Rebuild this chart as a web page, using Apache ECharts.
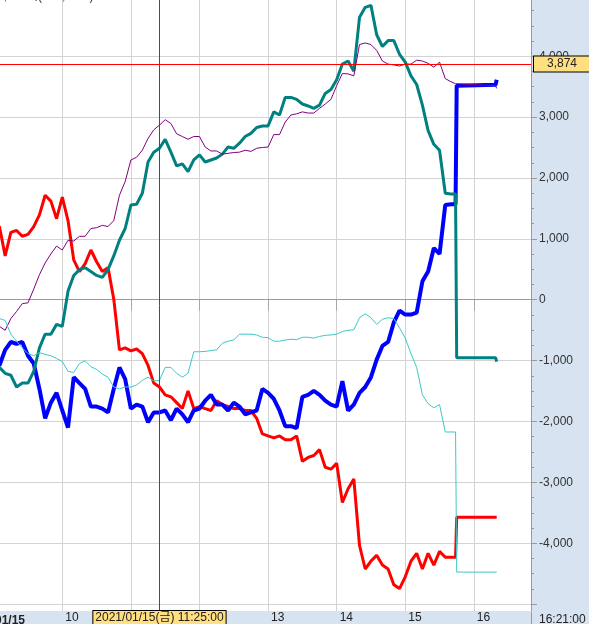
<!DOCTYPE html>
<html>
<head>
<meta charset="utf-8">
<script src="https://cdn.jsdelivr.net/npm/echarts@6/dist/echarts.min.js"></script>
<style>html,body{margin:0;padding:0;background:#d7e3f0;}#chart{width:589px;height:624px;}</style>
</head>
<body>
<div id="chart"></div>
<script>
const times = [
  "09:00","09:05","09:10","09:15","09:20","09:25","09:30","09:35","09:40","09:45","09:50","09:55",
  "10:00","10:05","10:10","10:15","10:20","10:25","10:30","10:35","10:40","10:45","10:50","10:55",
  "11:00","11:05","11:10","11:15","11:20","11:25","11:30","11:35","11:40","11:45","11:50","11:55",
  "12:00","12:05","12:10","12:15","12:20","12:25","12:30","12:35","12:40","12:45","12:50","12:55",
  "13:00","13:05","13:10","13:15","13:20","13:25","13:30","13:35","13:40","13:45","13:50","13:55",
  "14:00","14:05","14:10","14:15","14:20","14:25","14:30","14:35","14:40","14:45","14:50","14:55",
  "15:00","15:05","15:10","15:15","15:20","15:25","15:30","15:35","15:40","15:44","15:45","16:19","16:20"
];
const redVals = [
  1170,1202,720,1106,1138,1042,1074,1202,1395,1717,1620,1331,
  1685,1299,656,463,592,817,624,463,527,13,-823,-791,
  -840,-810,-887,-1080,-1370,-1434,-1562,-1595,-1691,-1788,-1498,-1788,
  -1755,-1788,-1820,-1659,-1723,-1755,-1788,-1788,-1820,-1820,-1948,-2205,
  -2238,-2270,-2238,-2302,-2302,-2238,-2655,-2591,-2559,-2463,-2752,-2784,
  -2688,-3331,-3106,-2945,-4038,-4424,-4295,-4199,-4360,-4424,-4681,-4745,
  -4552,-4295,-4167,-4424,-4167,-4360,-4135,-4231,-4231,-4231,-3575,-3575,-3575
];
const blueVals = [
  -900,-1080,-823,-694,-727,-694,-920,-1048,-1466,-1950,-1691,-1530,
  -1820,-2100,-1273,-1370,-1466,-1755,-1755,-1788,-1852,-1466,-1112,-1305,
  -1788,-1723,-1755,-2013,-1852,-1852,-1820,-1980,-1788,-1884,-2013,-1820,
  -1788,-1659,-1562,-1723,-1723,-1820,-1691,-1755,-1884,-1852,-1820,-1466,
  -1530,-1627,-1820,-2077,-2077,-2109,-1595,-1562,-1498,-1562,-1659,-1723,
  -1755,-1337,-1820,-1723,-1530,-1434,-1273,-984,-759,-694,-373,-180,
  -244,-244,-212,302,463,849,752,1556,1569,1569,3517,3530,3614
];
const tealVals = [
  -1100,-1112,-1209,-1241,-1434,-1370,-1370,-1177,-791,-566,-566,-405,
  -437,141,399,495,527,463,399,367,495,720,977,1170,
  1556,1569,1749,2263,2424,2488,2636,2424,2199,2231,2103,2296,
  2379,2263,2296,2328,2392,2508,2488,2572,2681,2733,2829,2855,
  2855,3086,3035,3324,3324,3292,3215,3183,3144,3196,3389,3453,
  3614,3871,3922,3755,4642,4803,4836,4353,4160,4257,4257,4032,
  3903,3678,3536,3196,2778,2553,2456,1749,1736,1736,-952,-952,-1016
];
const purpleVals = [
  -400,-437,-502,-309,-193,-64,-51,174,412,604,752,881,
  817,977,964,1042,1042,1170,1183,1222,1202,1299,1717,1942,
  2296,2341,2456,2649,2791,2868,2958,2894,2726,2681,2636,2681,
  2681,2508,2444,2444,2392,2405,2418,2424,2456,2437,2488,2501,
  2508,2713,2713,2919,3035,3054,3086,3067,3067,3144,3215,3292,
  3517,3716,3710,3678,4192,4218,4192,4096,3922,3871,3858,3839,
  3871,3871,3935,3922,3884,3820,3903,3633,3581,3549,3517,3517,3472
];
const cyanVals = [
  -300,-309,-341,-566,-682,-791,-887,-920,-868,-900,-920,-965,
  -1016,-1177,-1196,-1048,-1003,-1100,-1145,-1222,-1273,-1434,-1466,-1434,
  -1434,-1402,-1325,-1273,-1337,-1325,-1112,-1112,-1209,-1273,-1209,-855,
  -855,-849,-836,-823,-714,-682,-662,-566,-566,-566,-579,-617,
  -624,-682,-682,-662,-649,-656,-617,-617,-630,-604,-585,-579,
  -566,-521,-502,-495,-296,-231,-296,-405,-322,-296,-309,-463,
  -630,-887,-1112,-1562,-1710,-1775,-1723,-2173,-2173,-2173,-4475,-4475,-4475
];
const xTickValues = [600,660,720,780,840,900,960];   // 10:00 ... 16:00 in minutes
const yTickValues = [-5000,-4000,-3000,-2000,-1000,0,1000,2000,3000,4000];
const yLabelValues = [-4000,-3000,-2000,-1000,0,1000,2000,3000,4000];
const xDateLabel = "01/15";
const crossTime = "11:25";
const crossLabel = "2021/01/15(금) 11:25:00";
const crossValue = 3874;
const lastTimeLabel = "16:21:00";
const titleText = "3,872억(182,18%)";

function toMin(t){ const p = t.split(':').map(Number); return p[0]*60 + p[1]; }
function fmt(v){ return String(v).replace(/\B(?=(\d{3})+(?!\d))/g, ','); }
function mk(vals){ return times.map((t,i)=>[toMin(t), vals[i]]); }
const minorTickValues = [];
yTickValues.forEach(v => { minorTickValues.push(v + 250, v + 500, v + 750); });

const FONT = "'Liberation Sans', 'Noto Sans CJK KR', sans-serif";
const chart = echarts.init(document.getElementById('chart'), null, {renderer:'canvas'});
const xMin = 545.5, xMax = 1010;
const yMin = -5114, yMax = 4924;

function line(vals, color, width){
  return {type:'line', data: mk(vals), showSymbol:false, symbol:'none', animation:false,
    lineStyle:{color:color, width:width}, itemStyle:{color:color}, emphasis:{disabled:true}};
}

const cyanSeries = line(cyanVals, '#3cc8c8', 1);
cyanSeries.markLine = {
  silent:true, symbol:['none','none'], animation:false,
  data:[
    {xAxis: toMin(crossTime), lineStyle:{color:'#ff0000', width:1, type:'solid'},
     label:{show:true, position:'start', formatter: crossLabel, backgroundColor:'#ffdf80',
       borderColor:'#000', borderWidth:1, padding:[1,2,0,2], color:'#222', fontSize:12,
       fontFamily: FONT, distance:0}},
    {yAxis: crossValue, lineStyle:{color:'#ff0000', width:1, type:'solid'},
     label:{show:true, position:'end', formatter: fmt(crossValue), backgroundColor:'#ffdf80',
       borderColor:'#000', borderWidth:1, padding:[2,13,1,13], color:'#222', fontSize:12,
       fontFamily: FONT, distance:3}}
  ]
};

const option = {
  animation:false,
  backgroundColor:'#d7e3f0',
  textStyle:{fontFamily: FONT},
  grid:{left:0, right:58, top:0, bottom:11, show:true, backgroundColor:'#ffffff', borderWidth:0},
  xAxis:{
    type:'value', min:xMin, max:xMax,
    axisLine:{show:true, lineStyle:{color:'#9a9a9a'}},
    axisTick:{show:true, length:11, customValues: xTickValues, lineStyle:{color:'#a8a8a8'}},
    axisLabel:{show:true, customValues: xTickValues, align:'left', verticalAlign:'top', margin:1,
      padding:[0,0,0,3], color:'#222', fontSize:12, fontFamily: FONT,
      formatter: v => String(v/60)},
    splitLine:{show:true, lineStyle:{color:'#d3d3d3', width:1}}
  },
  yAxis:[{
    type:'value', position:'right', min:yMin, max:yMax,
    axisLine:{show:true, lineStyle:{color:'#9a9a9a'}},
    axisTick:{show:true, length:6, customValues: yTickValues, lineStyle:{color:'#9a9a9a'}},
    axisLabel:{show:true, customValues: yLabelValues, margin:8, color:'#333', fontSize:12,
      fontFamily: FONT, formatter: v => fmt(v)},
    splitLine:{show:true, lineStyle:{color:'#d3d3d3', width:1}}
  },{
    type:'value', position:'right', min:yMin, max:yMax,
    axisLine:{show:false},
    axisTick:{show:true, length:3, customValues: minorTickValues, lineStyle:{color:'#9a9a9a'}},
    axisLabel:{show:false},
    splitLine:{show:false}
  }],
  graphic:[
    {type:'text', left:-3, top:-9, style:{text:titleText, fill:'#333', fontSize:12, fontFamily:FONT}},
    {type:'text', left:-5, top:615, style:{text:xDateLabel, fill:'#222', fontSize:12, fontWeight:'bold', fontFamily:FONT}},
    {type:'text', left:539, top:614, style:{text:lastTimeLabel, fill:'#222', fontSize:12, fontFamily:FONT}},
    {type:'line', shape:{x1:531.5, y1:612, x2:531.5, y2:624}, style:{stroke:'#9a9a9a', lineWidth:1}}
  ],
  series:[
    line(redVals, '#ff0000', 3),
    line(blueVals, '#0000ff', 4),
    line(tealVals, '#008080', 3),
    line(purpleVals, '#800080', 1),
    cyanSeries
  ]
};
chart.setOption(option);
</script>
</body>
</html>
